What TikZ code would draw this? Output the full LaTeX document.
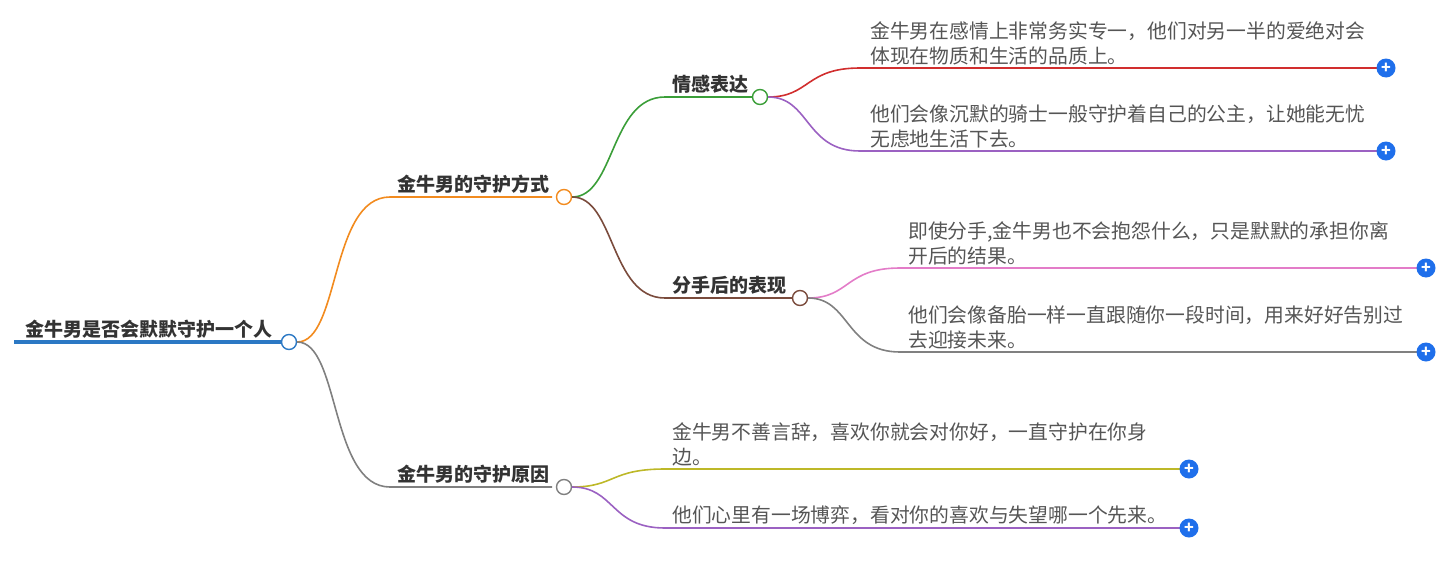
\documentclass[tikz,border=0pt]{standalone}
\usepackage{fontspec}
\setmainfont{Noto Sans CJK SC}
\usetikzlibrary{positioning}
\definecolor{rootblue}{HTML}{2B78C4}
\definecolor{cOrange}{HTML}{F28B1F}
\definecolor{cGreen}{HTML}{3A9E38}
\definecolor{cBrown}{HTML}{7A4B3C}
\definecolor{cGray}{HTML}{808080}
\definecolor{cRed}{HTML}{D12E2E}
\definecolor{cPurple}{HTML}{9B61C2}
\definecolor{cPink}{HTML}{E37CC8}
\definecolor{cOlive}{HTML}{BDB828}
\definecolor{plusblue}{HTML}{1F6FEB}
\definecolor{txt}{HTML}{555555}
\tikzset{
  knot/.style={circle, draw=#1, fill=white, line width=1.4pt, inner sep=0pt, minimum size=15pt},
  topic/.style={anchor=south west, inner sep=0pt, font=\fontsize{19}{22}\selectfont\bfseries, text=black!80},
  leaf/.style={anchor=south west, inner sep=0pt, align=left, font=\fontsize{19.8}{25}\selectfont, text=txt},
  plus/.style={circle, fill=plusblue, inner sep=0pt, minimum size=19pt, text=white, font=\bfseries\fontsize{16}{16}\selectfont},
  wire/.style={line width=1.6pt, draw=#1}
}
\begin{document}
\begin{tikzpicture}[x=1pt, y=-1pt]
\useasboundingbox (0,0) rectangle (1446,568);
% root
\draw[rootblue, line width=3.5pt] (14,342) -- (289,342);
\node[topic] (root) at (25,339) {金牛男是否会默默守护一个人};
\node[knot=rootblue] (r) at (289,342) {};
% level 1
\coordinate (e1) at (552,197);
\coordinate (e2) at (552,487);
\draw[wire=cOrange] (r) .. controls (340,342) and (330,197) .. (390,197) -- (e1);
\draw[wire=cGray] (r) .. controls (340,342) and (330,487) .. (390,487) -- (e2);
\node[knot=cOrange] (a) at (564,197) {};
\node[knot=cGray] (b) at (564,487) {};
\node[topic] at (397,194) {金牛男的守护方式};
\node[topic] at (397,484) {金牛男的守护原因};
% level 2
\draw[wire=cGreen] (a) .. controls (615,197) and (610,97) .. (665,97) -- (753,97);
\draw[wire=cBrown] (a) .. controls (615,197) and (610,298) .. (665,298) -- (793,298);
\node[knot=cGreen] (a1) at (760,97) {};
\node[knot=cBrown] (a2) at (800,298) {};
\node[topic] at (672,94) {情感表达};
\node[topic] at (672,295) {分手后的表现};
% leaves
\draw[wire=cRed] (a1) .. controls (810,97) and (805,68) .. (860,68) -- (1377,68);
\draw[wire=cPurple] (a1) .. controls (810,97) and (805,151) .. (860,151) -- (1377,151);
\draw[wire=cPink] (a2) .. controls (850,298) and (845,268) .. (900,268) -- (1417,268);
\draw[wire=cGray] (a2) .. controls (850,298) and (845,352) .. (900,352) -- (1417,352);
\draw[wire=cOlive] (b) .. controls (615,487) and (610,469) .. (665,469) -- (1180,469);
\draw[wire=cPurple] (b) .. controls (615,487) and (610,528) .. (665,528) -- (1180,528);
\node[leaf] at (870,65) {金牛男在感情上非常务实专一，他们对另一半的爱绝对会\\体现在物质和生活的品质上。};
\node[leaf] at (870,148) {他们会像沉默的骑士一般守护着自己的公主，让她能无忧\\无虑地生活下去。};
\node[leaf] at (908,265) {即使分手,金牛男也不会抱怨什么，只是默默的承担你离\\开后的结果。};
\node[leaf] at (908,349) {他们会像备胎一样一直跟随你一段时间，用来好好告别过\\去迎接未来。};
\node[leaf] at (672,466) {金牛男不善言辞，喜欢你就会对你好，一直守护在你身\\边。};
\node[leaf] at (672,525) {他们心里有一场博弈，看对你的喜欢与失望哪一个先来。};
\node[plus] (p1) at (1386,68) {+};
\node[plus] (p2) at (1386,151) {+};
\node[plus] (p3) at (1426,268) {+};
\node[plus] (p4) at (1426,352) {+};
\node[plus] (p5) at (1189,469) {+};
\node[plus] (p6) at (1189,528) {+};
\end{tikzpicture}
\end{document}
